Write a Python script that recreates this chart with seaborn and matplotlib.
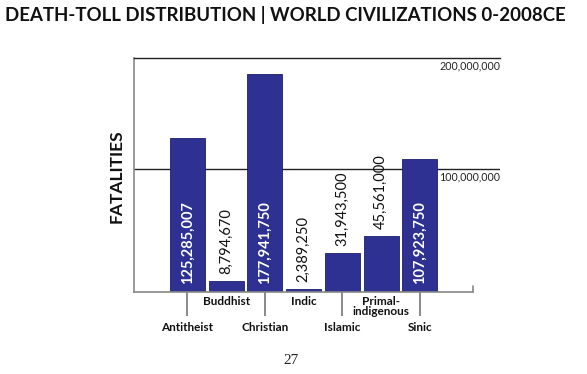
import matplotlib
matplotlib.use("Agg")
import matplotlib.pyplot as plt
import seaborn as sns

categories = ["Antitheist", "Buddhist", "Christian", "Indic", "Islamic",
              "Primal-\nindigenous", "Sinic"]
fatalities = [125285007, 8794670, 177941750, 2389250, 31943500, 45561000, 107923750]
value_labels = ["125,285,007", "8,794,670", "177,941,750", "2,389,250",
                "31,943,500", "45,561,000", "107,923,750"]
inside = [True, False, True, False, False, False, True]
ref_lines = [100000000, 200000000]
ref_labels = ["100,000,000", "200,000,000"]

sns.set_style("white")
plt.rcParams["font.family"] = ["Lato", "DejaVu Sans"]

fig = plt.figure(figsize=(5.87, 3.74), dpi=100)
ax = fig.add_axes([0.2283, 0.2193, 0.6235, 0.6257])

bar_col = "#2e3192"
sns.barplot(x=list(range(len(categories))), y=fatalities, color=bar_col,
            width=0.9, saturation=1, edgecolor="#1c1f6e", linewidth=0.6,
            ax=ax, native_scale=True)

ax.set_xlim(-1.38, 8.07)
ax.set_ylim(0, 190.6e6)

# frame
ax.spines["right"].set_visible(False)
ax.spines["top"].set_color("#222222")
ax.spines["top"].set_linewidth(1.0)
ax.spines["left"].set_color("#888888")
ax.spines["left"].set_linewidth(1.2)
ax.spines["bottom"].set_color("#888888")
ax.spines["bottom"].set_linewidth(1.2)
ax.spines["bottom"].set_bounds(-1.38, 7.38)
ax.plot([7.38, 7.38], [0, 4.5e6], color="#888888", lw=1.2, clip_on=False)

ax.axhline(ref_lines[0], color="#222222", lw=1.0, zorder=0)
ax.set_yticks([])

# reference labels on the right
ax.text(1.0, ref_lines[0] - 1.5e6, ref_labels[0],
        transform=ax.get_yaxis_transform(),
        ha="right", va="top", fontsize=7.7, color="#222222")
ax.text(1.0, 0.99, ref_labels[1], transform=ax.transAxes,
        ha="right", va="top", fontsize=7.7, color="#222222")

# value labels
for i, (v, lab, ins) in enumerate(zip(fatalities, value_labels, inside)):
    if ins:
        ax.annotate(lab, (i, 0), xytext=(0, 6), textcoords="offset points",
                    rotation=90, ha="center", va="bottom", color="white",
                    fontsize=10.5, fontweight="bold")
    else:
        ax.annotate(lab, (i, v), xytext=(0, 5), textcoords="offset points",
                    rotation=90, ha="center", va="bottom", color="#111111",
                    fontsize=10.5)

# category labels: alternating rows
lower = [0, 2, 4, 6]
upper = [1, 3, 5]
ax.set_xticks(lower)
ax.set_xticklabels([categories[i] for i in lower], fontsize=8.5,
                   fontweight="bold", color="#111111")
ax.set_xticks(upper, minor=True)
ax.set_xticklabels([categories[i] for i in upper], minor=True, fontsize=8.5,
                   fontweight="bold", color="#111111", linespacing=0.85)
ax.tick_params(axis="x", which="major", length=17.5, width=1.2,
               color="#777777", pad=4, bottom=True)
ax.tick_params(axis="x", which="minor", length=0, pad=3, bottom=True)

fig.text(117 / 587, 1 - 176 / 374, "FATALITIES", rotation=90, ha="center",
         va="center", fontsize=12.5, fontweight="bold", color="#111111")

fig.text(5 / 587, 1 - 15 / 374,
         "DEATH-TOLL DISTRIBUTION | WORLD CIVILIZATIONS 0-2008CE",
         ha="left", va="center", fontsize=13.4, fontweight="bold",
         color="#111111")

fig.text(291 / 587, 1 - 361 / 374, "27", ha="center", va="center",
         fontsize=11, family=["Liberation Serif", "DejaVu Serif"],
         color="#222222")

fig.savefig("out.png", dpi=100)
